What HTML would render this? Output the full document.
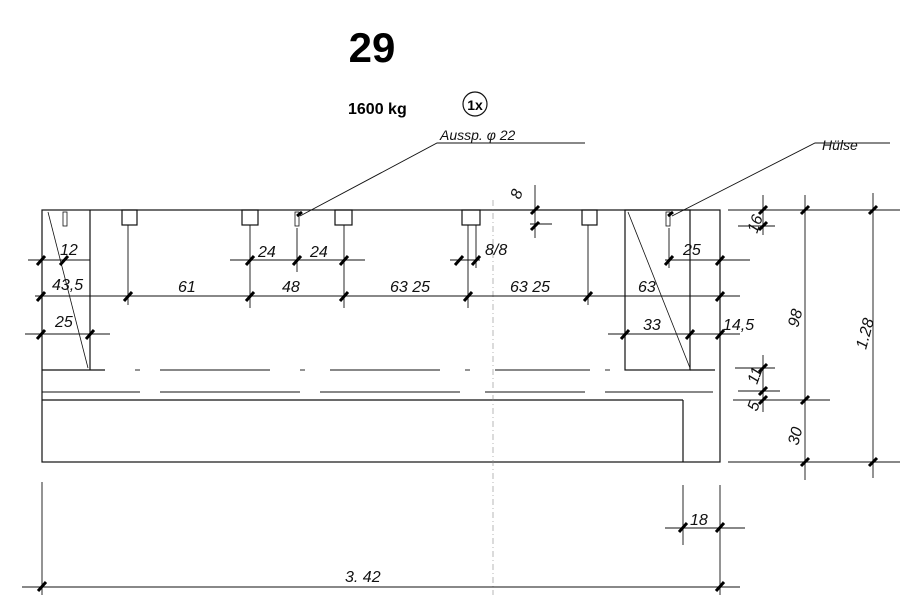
<!DOCTYPE html>
<html><head><meta charset="utf-8"><style>
html,body{margin:0;padding:0;background:#fff;}
svg{display:block}
.t{font-family:"Liberation Sans",sans-serif;font-style:italic;font-weight:normal;fill:#111;stroke:none}
</style></head><body>
<svg width="900" height="595" viewBox="0 0 900 595" xmlns="http://www.w3.org/2000/svg">
<g stroke="#111" fill="none" stroke-width="1.2">
<rect x="42" y="210" width="678" height="252"/>
<line x1="90" y1="210" x2="90" y2="370"/>
<line x1="42" y1="370" x2="105" y2="370"/>
<line x1="48" y1="212" x2="88" y2="368" stroke-width="0.8"/>
<rect x="625" y="210" width="65" height="160"/>
<line x1="628" y1="212" x2="690" y2="368" stroke-width="0.8"/>
<line x1="690" y1="370" x2="715" y2="370"/>
<g stroke-width="0.9">
<line x1="160" y1="370" x2="270" y2="370"/><line x1="330" y1="370" x2="440" y2="370"/><line x1="495" y1="370" x2="590" y2="370"/><line x1="135" y1="370" x2="140" y2="370"/><line x1="300" y1="370" x2="305" y2="370"/><line x1="465" y1="370" x2="470" y2="370"/><line x1="605" y1="370" x2="610" y2="370"/>
<line x1="42" y1="392" x2="140" y2="392"/><line x1="160" y1="392" x2="300" y2="392"/><line x1="320" y1="392" x2="460" y2="392"/><line x1="485" y1="392" x2="585" y2="392"/><line x1="605" y1="392" x2="713" y2="392"/>
</g>
<line x1="42" y1="400" x2="683" y2="400"/>
<line x1="683" y1="400" x2="683" y2="462"/>
<line x1="493" y1="200" x2="493" y2="595" stroke-width="0.6" stroke-dasharray="6,3,1,3" stroke="#888"/>
<rect x="122" y="210" width="15" height="15"/>
<rect x="242" y="210" width="16" height="15"/>
<rect x="335" y="210" width="17" height="15"/>
<rect x="462" y="210" width="18" height="15"/>
<rect x="582" y="210" width="15" height="15"/>
<g stroke-width="0.8"><rect x="63" y="212" width="4" height="14"/><rect x="295" y="212" width="4" height="14"/><rect x="666" y="212" width="4" height="14"/></g>
<g stroke-width="0.9">
<line x1="128" y1="225" x2="128" y2="305"/><line x1="250" y1="225" x2="250" y2="308"/><line x1="297" y1="228" x2="297" y2="272"/><line x1="344" y1="225" x2="344" y2="308"/><line x1="468" y1="225" x2="468" y2="308"/><line x1="476" y1="225" x2="476" y2="268"/><line x1="588" y1="225" x2="588" y2="305"/><line x1="669" y1="228" x2="669" y2="268"/>
<line x1="535" y1="185" x2="535" y2="238"/><line x1="530" y1="224" x2="552" y2="224"/>
<line x1="28" y1="260" x2="90" y2="260"/>
<line x1="230" y1="260" x2="365" y2="260"/>
<line x1="450" y1="260" x2="480" y2="260"/>
<line x1="665" y1="260" x2="750" y2="260"/>
<line x1="35" y1="296" x2="740" y2="296"/>
<line x1="25" y1="334" x2="110" y2="334"/>
<line x1="608" y1="334" x2="740" y2="334"/>
<line x1="728" y1="210" x2="900" y2="210"/>
<line x1="738" y1="226" x2="775" y2="226"/>
<line x1="763" y1="195" x2="763" y2="235"/>
<line x1="763" y1="355" x2="763" y2="412"/>
<line x1="735" y1="368" x2="775" y2="368"/>
<line x1="738" y1="391" x2="780" y2="391"/>
<line x1="733" y1="400" x2="830" y2="400"/>
<line x1="728" y1="462" x2="900" y2="462"/>
<line x1="805" y1="195" x2="805" y2="480"/>
<line x1="873" y1="193" x2="873" y2="478"/>
<line x1="42" y1="482" x2="42" y2="595"/><line x1="720" y1="485" x2="720" y2="595"/>
<line x1="22" y1="587" x2="740" y2="587"/>
<line x1="683" y1="485" x2="683" y2="545"/><line x1="665" y1="528" x2="745" y2="528"/>
<polyline points="300,216 437,143 585,143"/>
<polyline points="672,216 815,143 890,143"/>
</g>
<circle cx="475" cy="104" r="12" fill="none" stroke="#111" stroke-width="1.2"/>
<g stroke="#000" stroke-width="3" fill="none">
<path d="M37,265l8,-9M60,265l8,-9M37,301l8,-9M124,301l8,-9M246,301l8,-9M340,301l8,-9M464,301l8,-9M584,301l8,-9M716,301l8,-9M37,339l8,-9M86,339l8,-9
M246,265l8,-9M293,265l8,-9M340,265l8,-9M455,265l8,-9M472,265l8,-9M665,265l8,-9M716,265l8,-9M621,339l8,-9M686,339l8,-9M716,339l8,-9
M531,214l8,-8M531,230l8,-8M759,214l8,-8M759,230l8,-8M759,372l8,-8M759,395l8,-8M759,404l8,-8M801,214l8,-8M801,404l8,-8M801,466l8,-8M869,214l8,-8M869,466l8,-8
M38,591l8,-9M716,591l8,-9M679,532l8,-9M716,532l8,-9M297,216l5,-4M668,216l5,-4"/>
</g>
<text x="372" y="62" fill="#000" stroke="none" font-family="Liberation Sans,sans-serif" font-weight="bold" font-size="42" text-anchor="middle">29</text>
<text x="348" y="114" fill="#000" stroke="none" font-family="Liberation Sans,sans-serif" font-weight="bold" font-size="16">1600 kg</text>
<text x="475" y="110" fill="#000" stroke="none" font-family="Liberation Sans,sans-serif" font-weight="bold" font-size="14" text-anchor="middle">1x</text>
<g class="t" font-size="14">
<text x="440" y="140">Aussp.  φ 22</text>
<text x="822" y="150">Hülse</text>
</g>
<g class="t" font-size="16">
<text x="60" y="255">12</text>
<text x="52" y="290">43,5</text>
<text x="55" y="327">25</text>
<text x="178" y="292">61</text>
<text x="282" y="292">48</text>
<text x="390" y="292">63 25</text>
<text x="510" y="292">63 25</text>
<text x="258" y="257">24</text>
<text x="310" y="257">24</text>
<text x="485" y="255">8/8</text>
<text x="683" y="255">25</text>
<text x="638" y="292">63</text>
<text x="643" y="330">33</text>
<text x="723" y="330">14,5</text>
<text transform="translate(520,200) rotate(-70)">8</text>
<text transform="translate(757,234) rotate(-70)">16</text>
<text transform="translate(757,385) rotate(-70)">11</text>
<text transform="translate(757,412) rotate(-70)">5</text>
<text transform="translate(798,328) rotate(-75)">98</text>
<text transform="translate(866,350) rotate(-75)">1.28</text>
<text transform="translate(798,446) rotate(-75)">30</text>
<text x="690" y="525">18</text>
<text x="345" y="582">3. 42</text>
</g>
</svg>
</body></html>
